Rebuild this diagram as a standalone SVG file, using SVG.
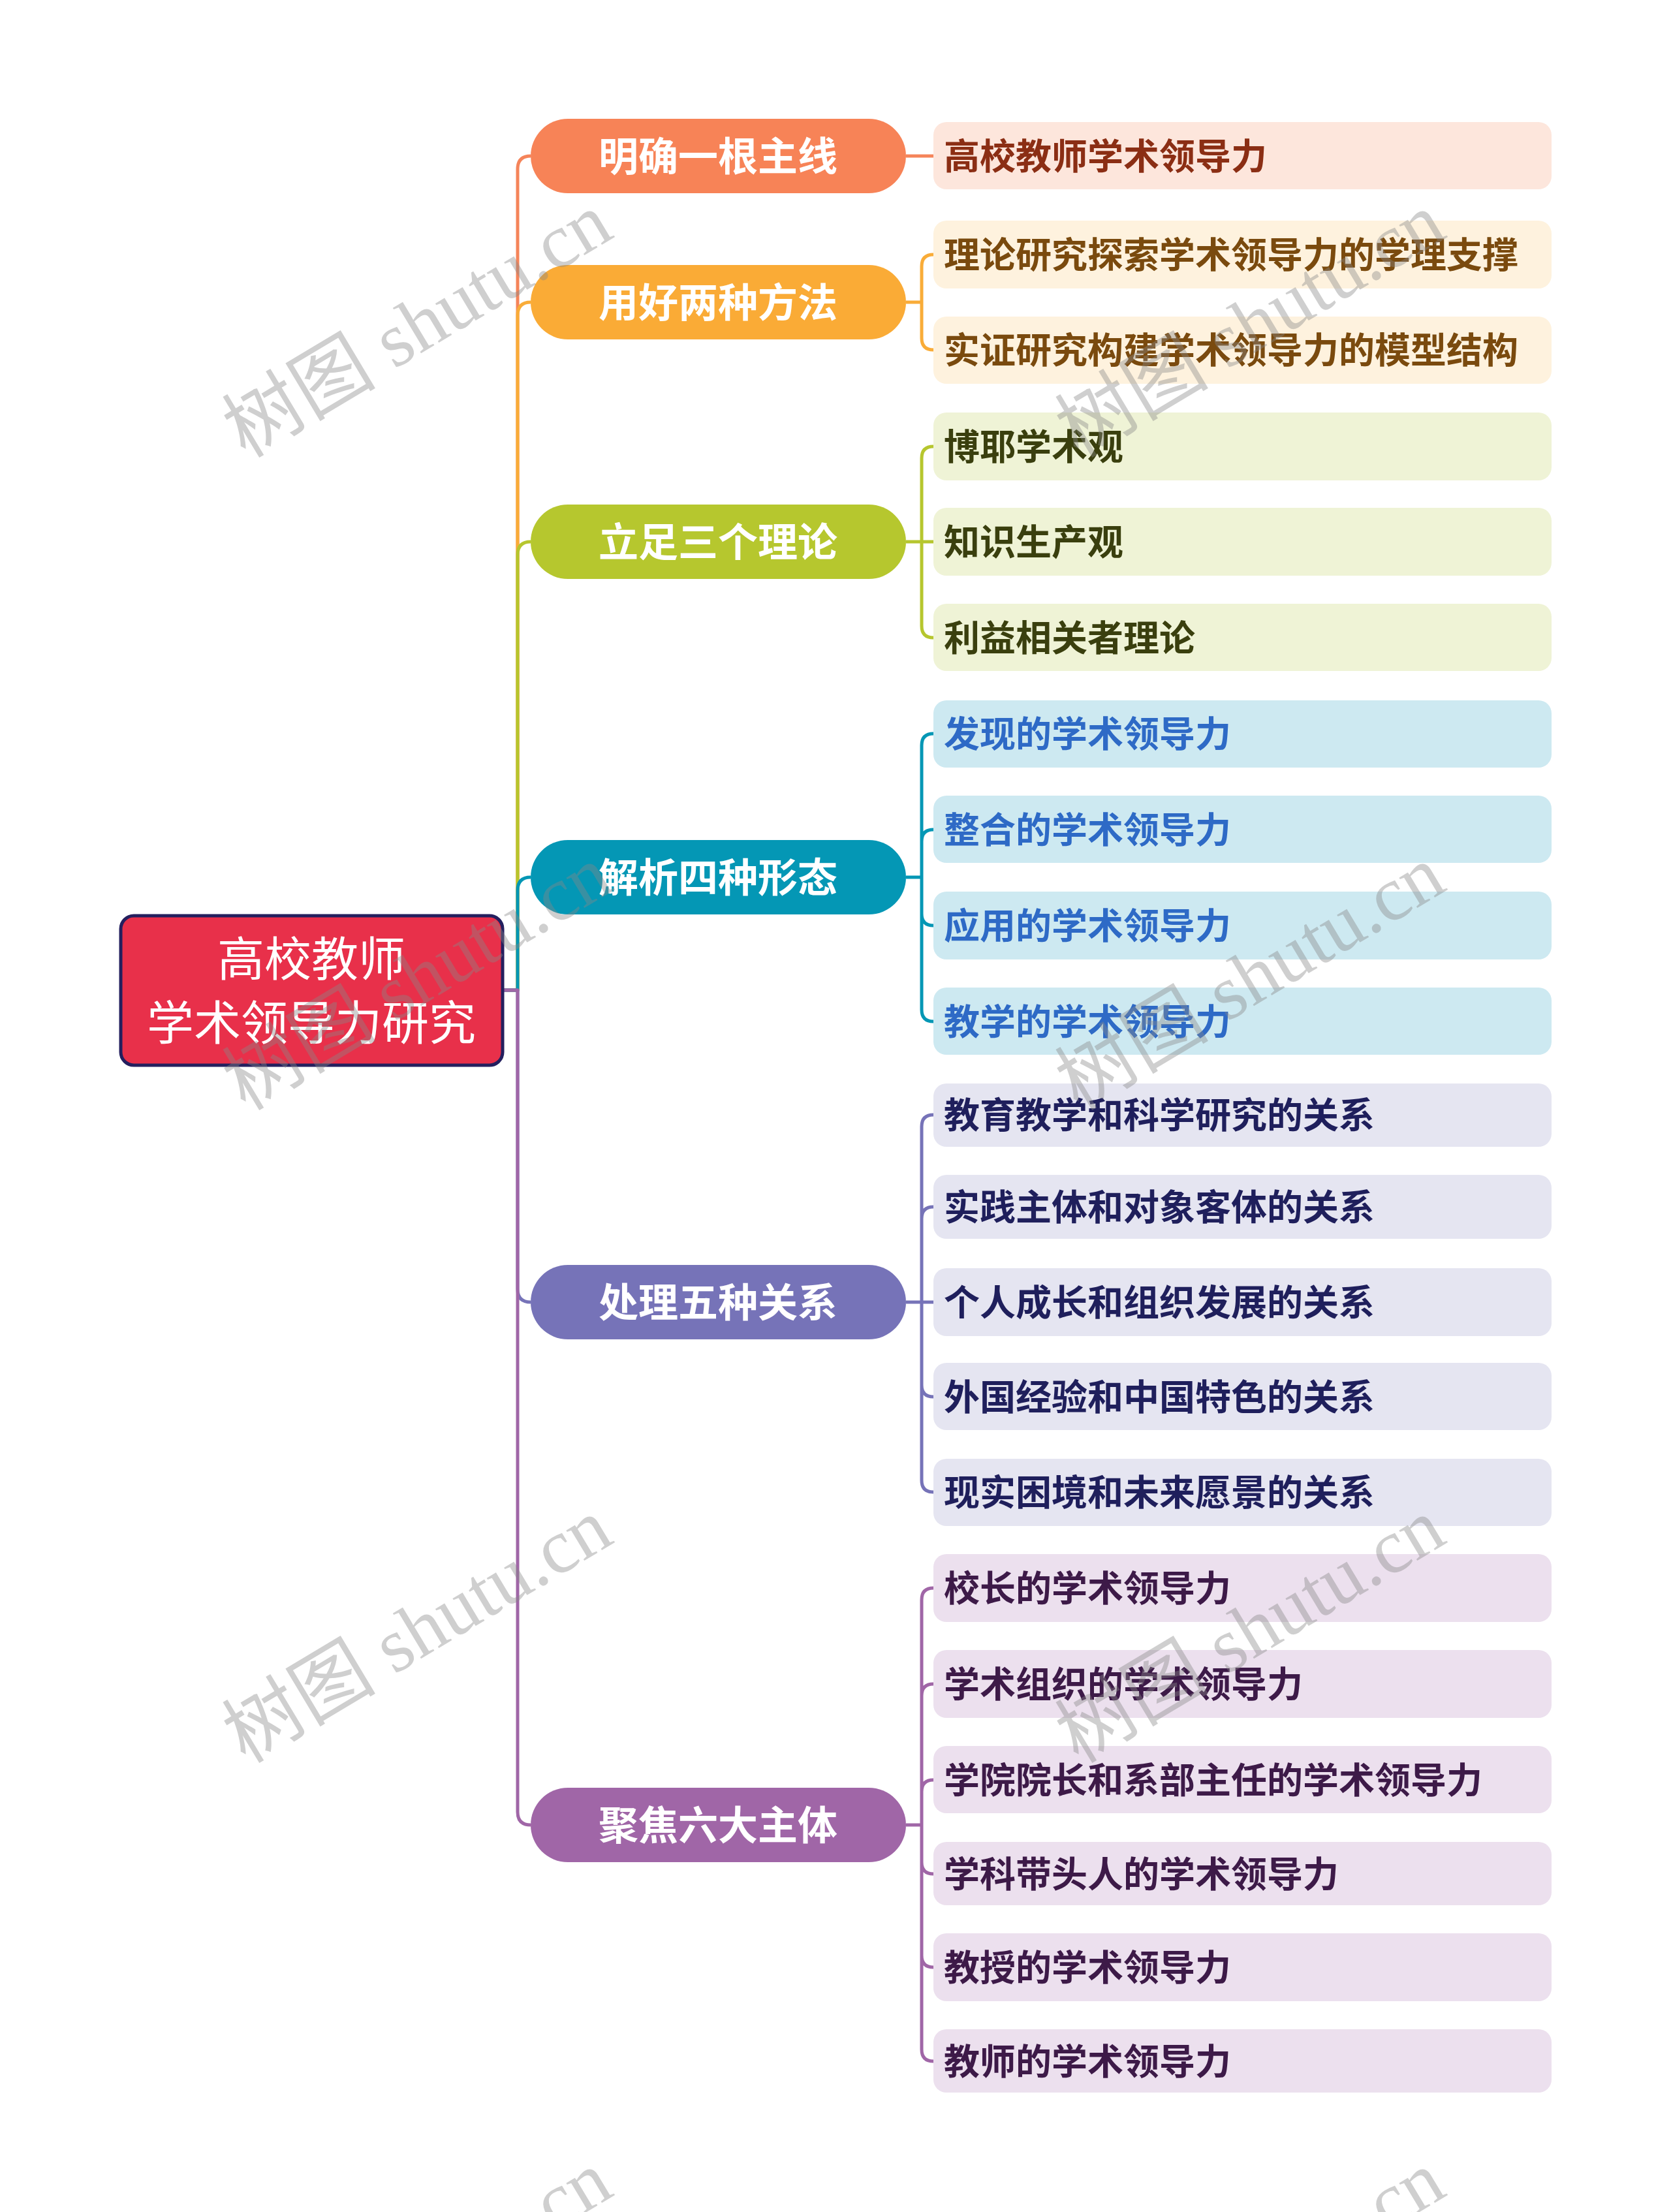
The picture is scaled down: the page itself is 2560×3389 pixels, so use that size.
<svg xmlns="http://www.w3.org/2000/svg" width="2560" height="3389" viewBox="0 0 2560 3389">
<style>
.cn{fill:none;stroke-width:5;stroke-linejoin:round}
.c1{stroke:#F5845A}.c2{stroke:#F9AC38}.c3{stroke:#B6C62E}.c4{stroke:#0497B5}.c5{stroke:#7673B8}.c6{stroke:#A066A7}
.bt{font-family:"Noto Sans CJK SC","Noto Sans",sans-serif;font-weight:700;font-size:61px;fill:#FFFFFF;text-anchor:middle;dominant-baseline:central}
.ct{font-family:"Noto Sans CJK SC","Noto Sans",sans-serif;font-weight:700;font-size:55px;dominant-baseline:central}
.rt{font-family:"Noto Sans CJK SC","Noto Sans",sans-serif;font-weight:400;font-size:72px;fill:#FFFFFF;text-anchor:middle;dominant-baseline:central}
.wm{font-family:"Liberation Serif","Noto Sans CJK SC",serif;font-size:118px;fill:#888888;opacity:0.4}
</style>
<rect width="2560" height="3389" fill="#FFFFFF"/>
<g id="connectors">
<path class="cn c1" d="M772 1517 H793 V259 Q793 239 813 239"/>
<path class="cn c2" d="M772 1517 H793 V483 Q793 463 813 463"/>
<path class="cn c3" d="M772 1517 H793 V850 Q793 830 813 830"/>
<path class="cn c4" d="M772 1517 H793 V1364 Q793 1344 813 1344"/>
<path class="cn c5" d="M772 1517 H793 V1975 Q793 1995 813 1995"/>
<path class="cn c6" d="M772 1517 H793 V2776 Q793 2796 813 2796"/>
<path class="cn c1" d="M1388 239 H1430"/>
<path class="cn c2" d="M1388 463 H1412 V408 Q1412 390 1430 390 M1388 463 H1412 V518 Q1412 536 1430 536"/>
<path class="cn c3" d="M1388 830 H1412 V702 Q1412 684 1430 684 M1388 830 H1430 M1388 830 H1412 V959 Q1412 977 1430 977"/>
<path class="cn c4" d="M1388 1344 H1412 V1142 Q1412 1124 1430 1124 M1388 1344 H1412 V1289 Q1412 1271 1430 1271 M1388 1344 H1412 V1400 Q1412 1418 1430 1418 M1388 1344 H1412 V1547 Q1412 1565 1430 1565"/>
<path class="cn c5" d="M1388 1995 H1412 V1726 Q1412 1708 1430 1708 M1388 1995 H1412 V1867 Q1412 1849 1430 1849 M1388 1995 H1430 M1388 1995 H1412 V2122 Q1412 2140 1430 2140 M1388 1995 H1412 V2268 Q1412 2286 1430 2286"/>
<path class="cn c6" d="M1388 2796 H1412 V2451 Q1412 2433 1430 2433 M1388 2796 H1412 V2598 Q1412 2580 1430 2580 M1388 2796 H1412 V2745 Q1412 2727 1430 2727 M1388 2796 H1412 V2853 Q1412 2871 1430 2871 M1388 2796 H1412 V2996 Q1412 3014 1430 3014 M1388 2796 H1412 V3140 Q1412 3158 1430 3158"/>
</g>
<g id="root">
<rect x="185" y="1403" width="585" height="229" rx="20" fill="#E8304A" stroke="#241F5E" stroke-width="5"/>
<text class="rt" x="477" y="1463">高校教师</text>
<text class="rt" x="477" y="1561">学术领导力研究</text>
</g>
<g id="b1"><rect x="813" y="182" width="575" height="114" rx="57" fill="#F78357"/><text class="bt" x="1100" y="235">明确一根主线</text></g>
<g id="b2"><rect x="813" y="406" width="575" height="114" rx="57" fill="#FAAB36"/><text class="bt" x="1100" y="459">用好两种方法</text></g>
<g id="b3"><rect x="813" y="773" width="575" height="114" rx="57" fill="#B6C72E"/><text class="bt" x="1100" y="826">立足三个理论</text></g>
<g id="b4"><rect x="813" y="1287" width="575" height="114" rx="57" fill="#0497B5"/><text class="bt" x="1100" y="1340">解析四种形态</text></g>
<g id="b5"><rect x="813" y="1938" width="575" height="114" rx="57" fill="#7673B8"/><text class="bt" x="1100" y="1991">处理五种关系</text></g>
<g id="b6"><rect x="813" y="2739" width="575" height="114" rx="57" fill="#A066A7"/><text class="bt" x="1100" y="2792">聚焦六大主体</text></g>
<g id="n1-1"><rect x="1430" y="187" width="947" height="103" rx="20" fill="#FDE6DC"/><text class="ct" x="1446" y="235" fill="#8B2E14">高校教师学术领导力</text></g>
<g id="n2-1"><rect x="1430" y="338" width="947" height="104" rx="20" fill="#FEF2DE"/><text class="ct" x="1446" y="386" fill="#7A4A0E">理论研究探索学术领导力的学理支撑</text></g>
<g id="n2-2"><rect x="1430" y="485" width="947" height="103" rx="20" fill="#FEF2DE"/><text class="ct" x="1446" y="532" fill="#7A4A0E">实证研究构建学术领导力的模型结构</text></g>
<g id="n3-1"><rect x="1430" y="632" width="947" height="104" rx="20" fill="#EFF3D6"/><text class="ct" x="1446" y="680" fill="#3A3F0E">博耶学术观</text></g>
<g id="n3-2"><rect x="1430" y="778" width="947" height="104" rx="20" fill="#EFF3D6"/><text class="ct" x="1446" y="826" fill="#3A3F0E">知识生产观</text></g>
<g id="n3-3"><rect x="1430" y="925" width="947" height="103" rx="20" fill="#EFF3D6"/><text class="ct" x="1446" y="973" fill="#3A3F0E">利益相关者理论</text></g>
<g id="n4-1"><rect x="1430" y="1073" width="947" height="103" rx="20" fill="#CDE9F1"/><text class="ct" x="1446" y="1120" fill="#2E6AC6">发现的学术领导力</text></g>
<g id="n4-2"><rect x="1430" y="1219" width="947" height="103" rx="20" fill="#CDE9F1"/><text class="ct" x="1446" y="1267" fill="#2E6AC6">整合的学术领导力</text></g>
<g id="n4-3"><rect x="1430" y="1366" width="947" height="104" rx="20" fill="#CDE9F1"/><text class="ct" x="1446" y="1414" fill="#2E6AC6">应用的学术领导力</text></g>
<g id="n4-4"><rect x="1430" y="1513" width="947" height="103" rx="20" fill="#CDE9F1"/><text class="ct" x="1446" y="1561" fill="#2E6AC6">教学的学术领导力</text></g>
<g id="n5-1"><rect x="1430" y="1660" width="947" height="97" rx="20" fill="#E5E5F1"/><text class="ct" x="1446" y="1704" fill="#1F1F5C">教育教学和科学研究的关系</text></g>
<g id="n5-2"><rect x="1430" y="1800" width="947" height="98" rx="20" fill="#E5E5F1"/><text class="ct" x="1446" y="1845" fill="#1F1F5C">实践主体和对象客体的关系</text></g>
<g id="n5-3"><rect x="1430" y="1943" width="947" height="104" rx="20" fill="#E5E5F1"/><text class="ct" x="1446" y="1991" fill="#1F1F5C">个人成长和组织发展的关系</text></g>
<g id="n5-4"><rect x="1430" y="2088" width="947" height="103" rx="20" fill="#E5E5F1"/><text class="ct" x="1446" y="2136" fill="#1F1F5C">外国经验和中国特色的关系</text></g>
<g id="n5-5"><rect x="1430" y="2235" width="947" height="103" rx="20" fill="#E5E5F1"/><text class="ct" x="1446" y="2282" fill="#1F1F5C">现实困境和未来愿景的关系</text></g>
<g id="n6-1"><rect x="1430" y="2381" width="947" height="104" rx="20" fill="#ECE0EE"/><text class="ct" x="1446" y="2429" fill="#3D1A48">校长的学术领导力</text></g>
<g id="n6-2"><rect x="1430" y="2528" width="947" height="104" rx="20" fill="#ECE0EE"/><text class="ct" x="1446" y="2576" fill="#3D1A48">学术组织的学术领导力</text></g>
<g id="n6-3"><rect x="1430" y="2675" width="947" height="103" rx="20" fill="#ECE0EE"/><text class="ct" x="1446" y="2723" fill="#3D1A48">学院院长和系部主任的学术领导力</text></g>
<g id="n6-4"><rect x="1430" y="2822" width="947" height="97" rx="20" fill="#ECE0EE"/><text class="ct" x="1446" y="2867" fill="#3D1A48">学科带头人的学术领导力</text></g>
<g id="n6-5"><rect x="1430" y="2962" width="947" height="104" rx="20" fill="#ECE0EE"/><text class="ct" x="1446" y="3010" fill="#3D1A48">教授的学术领导力</text></g>
<g id="n6-6"><rect x="1430" y="3109" width="947" height="97" rx="20" fill="#ECE0EE"/><text class="ct" x="1446" y="3154" fill="#3D1A48">教师的学术领导力</text></g>
<g id="watermarks">
<text class="wm" x="376" y="703" transform="rotate(-31 376 703)">树图 shutu.cn</text>
<text class="wm" x="1652" y="703" transform="rotate(-31 1652 703)">树图 shutu.cn</text>
<text class="wm" x="376" y="1703" transform="rotate(-31 376 1703)">树图 shutu.cn</text>
<text class="wm" x="1652" y="1703" transform="rotate(-31 1652 1703)">树图 shutu.cn</text>
<text class="wm" x="376" y="2703" transform="rotate(-31 376 2703)">树图 shutu.cn</text>
<text class="wm" x="1652" y="2703" transform="rotate(-31 1652 2703)">树图 shutu.cn</text>
<text class="wm" x="376" y="3703" transform="rotate(-31 376 3703)">树图 shutu.cn</text>
<text class="wm" x="1652" y="3703" transform="rotate(-31 1652 3703)">树图 shutu.cn</text>
</g>
</svg>
